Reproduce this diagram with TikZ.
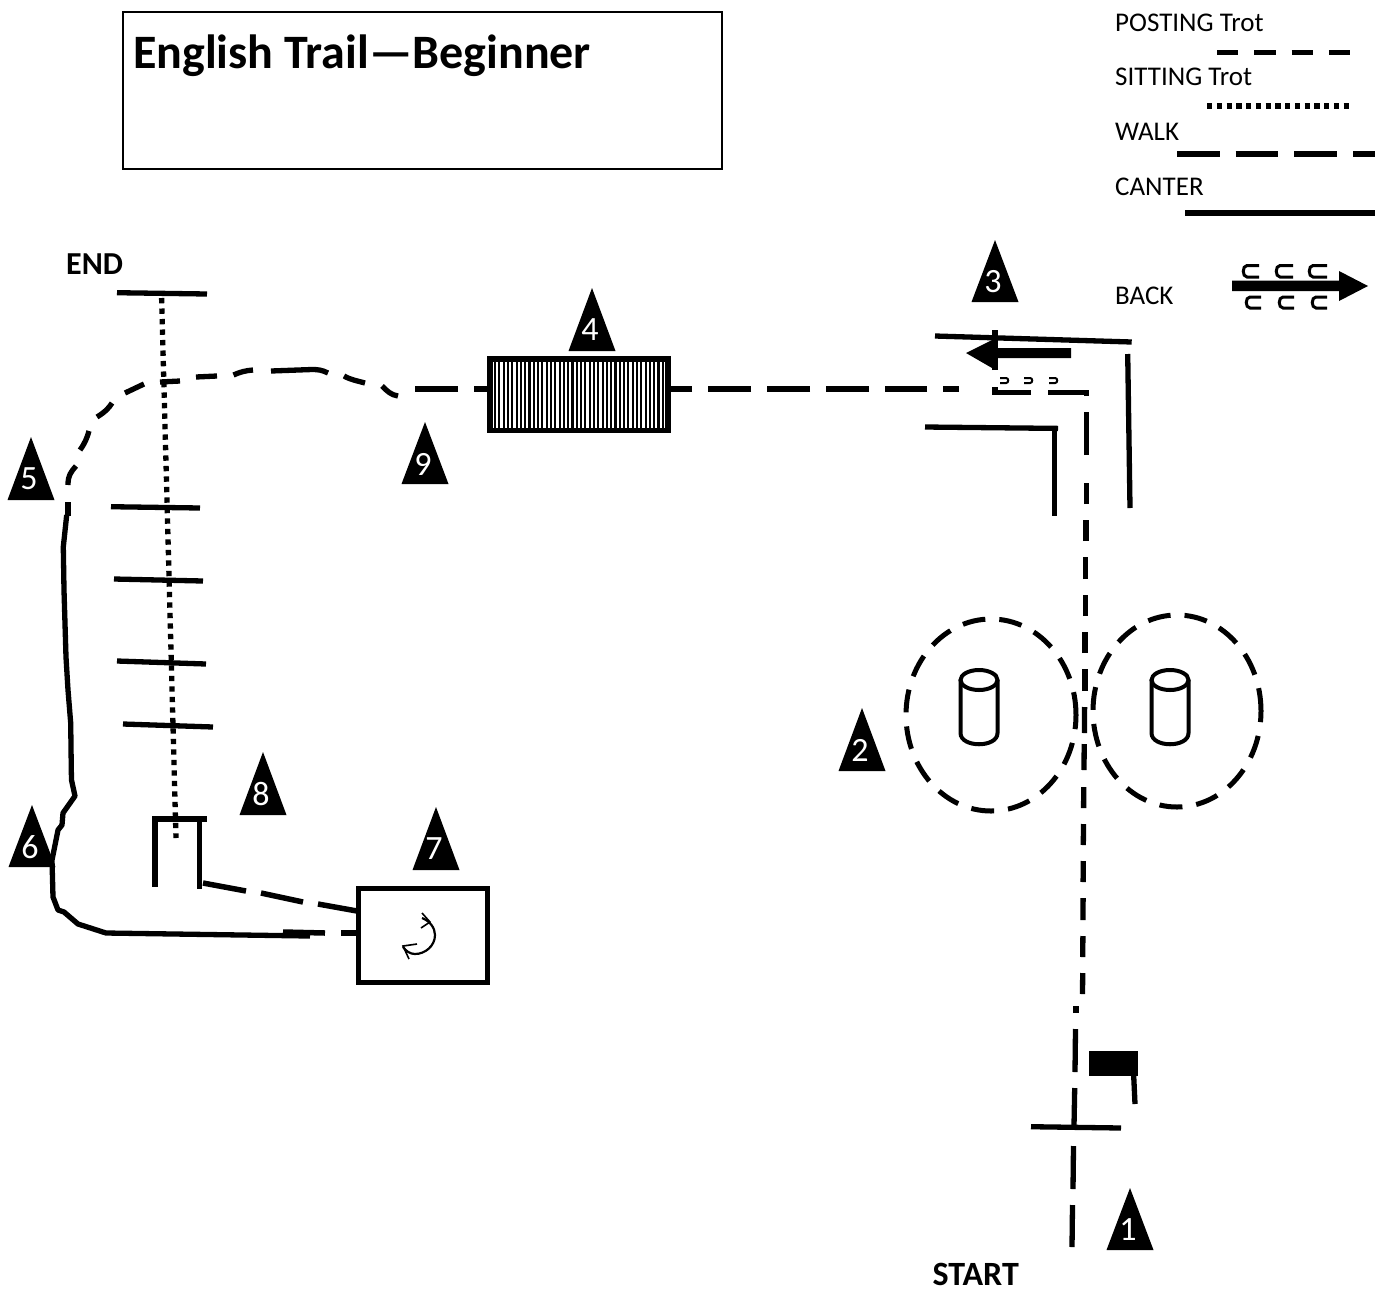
\documentclass[tikz,border=0pt]{standalone}
\usepackage{fontspec}
\setmainfont{Carlito}
\tikzset{
  ln/.style={line width=5.3pt},
  seg/.style={line width=5.5pt},
  thinln/.style={line width=2.2pt},
  shoe/.style={line width=3pt},
  tiny shoe/.style={line width=2pt},
  can/.style={line width=4pt},
  lbl/.style={anchor=base west,inner sep=0pt,font=\fontsize{27}{27}\selectfont},
  blbl/.style={anchor=base west,inner sep=0pt,font=\fontsize{32}{32}\selectfont\bfseries},
  tnum/.style={text=white,inner sep=0pt,font=\fontsize{34}{34}\selectfont},
  circ/.style={line width=5pt,dash pattern=on 23pt off 14pt}
}
\newcommand{\marker}[4]{% name/number, apex x, top, base
  \fill (#2-23.5,#4) -- (#2,#3) -- (#2+23.5,#4) -- cycle;
  \node[tnum] (m#1) at (#2-2,#3+42) {#1};
}
\newcommand{\hshoeL}[5][shoe]{% open to the right
  \draw[#1] (#3,#4) -- (#2+5,#4) .. controls (#2,#4) and (#2,#5) .. (#2+5,#5) -- (#3,#5);
}
\newcommand{\hshoeR}[5][tiny shoe]{% open to the left
  \draw[#1] (#2,#4) -- (#3-3,#4) .. controls (#3,#4) and (#3,#5) .. (#3-3,#5) -- (#2,#5);
}
\newcommand{\barrel}[1]{% centre x
  \draw[can] (#1-18.5,680) -- (#1-18.5,733) .. controls (#1-18.5,748) and (#1+18.5,748) .. (#1+18.5,733) -- (#1+18.5,680);
  \draw[can] (#1,680) ellipse [x radius=18.5pt, y radius=10pt];
}
\begin{document}
\begin{tikzpicture}[x=1pt,y=-1pt]
\useasboundingbox (0,0) rectangle (1375,1288);
% title
\draw[line width=1.5pt] (123,12) rectangle (722,169);
\node[anchor=base west,inner sep=0pt,font=\fontsize{48}{48}\selectfont\bfseries] (title) at (133,68) {English Trail—Beginner};
% legend
\node[lbl] (lposting) at (1115,31) {POSTING Trot};
\node[lbl] (lsitting) at (1115,85) {SITTING Trot};
\node[lbl] (lwalk) at (1115,140) {WALK};
\node[lbl] (lcanter) at (1115,195) {CANTER};
\node[lbl] (lback) at (1115,304) {BACK};
\draw[seg,dash pattern=on 21.3pt off 16pt] (1217,52.5) -- (1352,52.5);
\draw[line width=5.3pt,dash pattern=on 5.3pt off 4.45pt] (1207,106) -- (1352,106);
\draw[seg,dash pattern=on 42.7pt off 16pt] (1177,154) -- (1375,154);
\draw[seg] (1185,213) -- (1375,213);
% back legend arrow
\fill (1232,280.5) -- (1339,280.5) -- (1339,271) -- (1368,286) -- (1339,301) -- (1339,291) -- (1232,291) -- cycle;
\hshoeL{1242}{1259}{265.5}{277}
\hshoeL{1275}{1293}{265.5}{277}
\hshoeL{1308}{1327}{265.5}{277}
\hshoeL{1245}{1261}{297}{308}
\hshoeL{1278}{1294}{297}{308}
\hshoeL{1311}{1327}{297}{308}
% labels
\node[blbl] (end) at (66,274) {END};
\node[blbl,font=\fontsize{34}{34}\selectfont\bfseries] (start) at (932.5,1285) {START};
% markers
\marker{1}{1130}{1188}{1250}
\marker{2}{862}{708}{771}
\marker{3}{995}{240}{302}
\marker{4}{592}{288}{351}
\marker{5}{31}{437}{500}
\marker{6}{32}{805}{867}
\marker{7}{436}{807}{870}
\marker{8}{263}{752}{815}
\marker{9}{425}{422}{484}
% start gate and flag
\draw[ln] (1031,1126.7) -- (1121,1128);
\fill (1089,1051) rectangle (1138,1076);
\draw[ln] (1133.7,1076) -- (1135,1104);
% main walk/trot line, from start upwards
\draw[ln] (1072,1247) -- (1072.5,1205);
\draw[ln] (1073,1189) -- (1073.5,1146);
\draw[ln] (1074,1126) -- (1074.7,1088);
\draw[ln] (1075,1072) -- (1075.5,1029);
\draw[ln] (1076,1013) -- (1076,1006);
\draw[ln] (1082.5,994) -- (1082.7,973);
\draw[ln] (1082.7,957) -- (1082.9,936);
\draw[ln] (1083,920) -- (1083.1,898);
\draw[ln] (1083.1,882) -- (1083.3,861);
\draw[ln] (1083.3,845) -- (1083.5,824);
\draw[ln] (1083.6,808) -- (1083.7,787);
\draw[ln] (1084,770) -- (1084.2,744);
\draw[ln] (1084.4,733) -- (1084.6,707);
\draw[ln] (1085,691) -- (1085,669);
\draw[ln] (1085,653) -- (1085,632);
\draw[ln] (1085.3,616) -- (1085.3,595);
\draw[ln] (1085.7,579) -- (1085.7,557);
\draw[ln] (1086,541) -- (1086,520);
\draw[ln] (1086.3,504) -- (1086.3,483);
\draw[ln] (1086.3,455) -- (1086.3,412);
\draw[ln] (1086.3,396) -- (1086.3,392.5) -- (1048,392.5);
\draw[ln] (1031,392.5) -- (995,392.5) -- (995,387);
\draw[ln] (995,370) -- (995,330);
\draw[seg] (959,389) -- (943,389);
\draw[seg] (927,389) -- (885,389);
\draw[seg] (869,389) -- (826,389);
\draw[seg] (810,389) -- (767,389);
\draw[seg] (751,389) -- (708,389);
\draw[seg] (692,389) -- (670,389);
% pole box 4
\draw[seg] (488,389) -- (474,389);
\draw[seg] (458,389) -- (415,389);
% curved trot
\draw[ln] (398,396) .. controls (391,395) and (387,391) .. (382,386);
\draw[ln] (365,383) .. controls (358,381) and (351,380) .. (344,376);
\draw[ln] (328,373) .. controls (322,370) and (318,369.5) .. (312,369.5) -- (271,371);
\draw[ln] (253,370) .. controls (246,370.5) and (240,372) .. (233.5,375);
\draw[ln] (217,376) -- (196,377);
\draw[ln] (180,381) -- (160,382);
\draw[ln] (144,384) -- (125,393);
\draw[ln] (112,403) .. controls (109,408) and (105,412) .. (97,417);
\draw[ln] (89,431) .. controls (87,438) and (85,443) .. (80,450);
\draw[ln] (76,466) .. controls (71,472) and (68,475) .. (68,485);
\draw[ln] (68,502) -- (68,516);
% canter
\draw[ln,line join=round] (66.7,515) -- (63.3,547) -- (64,590) -- (66,657) -- (68,690) -- (70.7,723) -- (71.3,770) -- (71.5,780) -- (75,796) -- (63,813) -- (62,825) -- (58,830) -- (52,860) -- (53,897) -- (58,910) -- (64,912) -- (78,924) -- (106,933) -- (310,936);
\draw[seg] (283,932) -- (325,933);
\draw[seg] (341,933) -- (357,933);
% box 4 hatch
\foreach \i in {0,...,39}{\fill (494+\i*4.3,360) rectangle ++(2.1,70);}
\draw[line width=5.5pt] (490,359) rectangle (668,430.5);
% L chute walls at 3
\draw[ln] (935,336) -- (1131.7,342);
\draw[ln] (1127.7,354) -- (1130,508);
\draw[ln] (925,427) -- (1058,428.4);
\draw[ln] (1054.5,428) -- (1054.5,516);
\fill (1071,348) -- (992,348) -- (992,340) -- (966,353) -- (992,368) -- (992,358) -- (1071,358) -- cycle;
\hshoeR{1000}{1009}{378}{383}
\hshoeR{1024}{1033}{378}{383}
\hshoeR{1049}{1058}{378}{383}
% circles and barrels
\draw[circ] (991,715) ellipse [x radius=85pt, y radius=96pt];
\draw[circ] (1177,711) ellipse [x radius=84pt, y radius=96pt];
\barrel{979}
\barrel{1170}
% end poles
\draw[ln,dash pattern=on 5.3pt off 5.2pt] (161.6,298) -- (176,838);
\draw[ln] (117,292.7) -- (207,294);
\draw[ln] (111,506.7) -- (200,508);
\draw[ln] (114,579) -- (203,581);
\draw[ln] (117,661) -- (206,664);
\draw[ln] (123,724) -- (213,727);
% chute 8
\draw[ln] (152,819) -- (207,819);
\draw[ln] (155,821) -- (155,887);
\draw[ln] (199.5,821) -- (199.5,889);
\draw[seg] (203,883) -- (246,891);
\draw[seg] (261,893) -- (303,902);
\draw[seg] (318,904) -- (357,911);
% box 7
\draw[line width=5.3pt,fill=white] (358.7,888.7) rectangle (487.3,982.5);
\draw[thinln] (422,918) .. controls (430,921) and (435,928) .. (435,935) .. controls (435,946) and (425,954) .. (415,954) .. controls (410,954) and (406,951) .. (403,947);
\draw[line width=1.6pt] (422,913) -- (430,922) -- (421,928);
\draw[line width=1.6pt] (417,944) -- (403,946) -- (409,959);
\end{tikzpicture}
\end{document}
